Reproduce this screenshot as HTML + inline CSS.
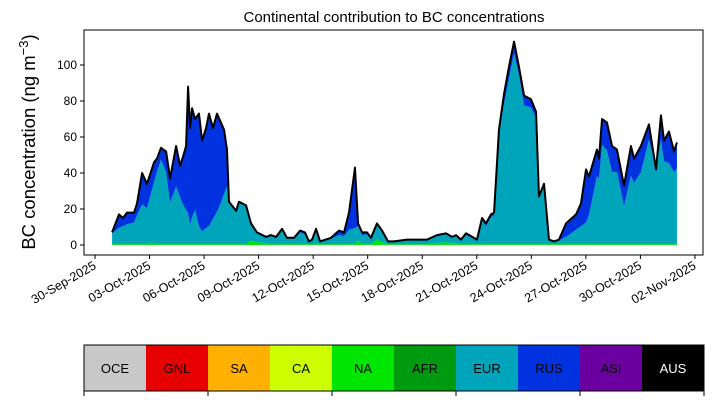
<!DOCTYPE html>
<html><head><meta charset="utf-8"><style>
body{margin:0;background:#fff}
svg{display:block;font-family:"Liberation Sans","DejaVu Sans",sans-serif}
</style></head><body>
<svg id="chart" width="714" height="402" viewBox="0 0 714 402" xmlns="http://www.w3.org/2000/svg">
<text x="394" y="22" font-size="15" text-anchor="middle">Continental contribution to BC concentrations</text>
<text transform="translate(35,142) rotate(-90)" font-size="18.5" text-anchor="middle">BC concentration (ng m<tspan dy="-7" font-size="13">−3</tspan><tspan dy="7">)</tspan></text>
<g id="plot"></g>
<g id="legend"></g>
</svg>
<script>
const days=[0.94,1.32,1.54,1.76,2.15,2.31,2.59,2.86,3.25,3.41,3.63,3.91,4.13,4.46,4.68,4.84,5.01,5.12,5.23,5.34,5.50,5.72,5.89,6.11,6.27,6.49,6.71,6.93,7.10,7.26,7.37,7.76,7.92,8.31,8.58,8.91,9.41,9.68,9.96,10.29,10.56,10.95,11.28,11.55,11.77,11.94,12.16,12.38,12.98,13.42,13.70,13.97,14.30,14.47,14.69,14.96,15.18,15.51,15.79,16.12,16.45,17.16,18.26,18.81,19.31,19.64,19.86,20.13,20.41,21.01,21.29,21.51,21.78,21.95,22.22,22.50,22.77,23.05,23.32,23.60,23.98,24.26,24.42,24.70,24.97,25.25,25.52,25.91,26.46,26.73,27.01,27.17,27.61,27.72,27.89,28.16,28.44,28.71,29.10,29.48,29.65,30.03,30.47,30.86,31.13,31.30,31.57,31.85,32.01];
const total=[7,17,15,18,18,23,40,34,46,48,54,52,37,55,44,49,55,88,65,76,70,73,58,65,73,65,73,68,64,53,24,19,24,22,12,7,4.5,5.5,4.5,9,4,4,8,7,2,3,9,2,4,8,7,18,43,12,7,7,4,12,8,2,2,3,3,5.5,6.5,4.5,5.5,3,6.5,3,15,12,17,18,64,84,99,113,99,83,81,74,27,34,3,2,3,12,17,23,42,38,53,48,70,68,55,53,33,55,48,55,67,42,72,58,63,52,57];
const eur=[6,9,10,11,12,16,22,20,34,40,47,40,23,32,26,22,19,17,11,15,19,10,7,9,10,14,18,23,28,32,23,18,23,21,11,6,4,4.5,4,8,3.5,3.5,6.5,5.5,1.5,2.5,7,1.5,3,5,4.5,8,9,8,5,5.5,3,9,6,1.5,1.5,2,2,4,5,3.5,4.5,2.5,5,2.5,13,10,15,16,60,78,92,106,94,77,76,70,26,32,2.5,1.5,2,4,8,10,12,16,38,36,55,52,40,40,21,38,34,40,58,42,58,46,45,40,42];
const na=[0.5,0.5,0.5,0.5,0.5,0.5,0.5,0.5,1,0.5,0.5,0.5,0.5,0.5,0.5,0.5,0.5,0.5,0.5,0.5,0.5,0.5,0.5,0.5,0.5,0.5,0.5,0.5,0.5,0.5,0.5,0.5,0.5,0.5,2.5,1.5,1,0.5,0.5,0.5,0.5,0.5,0.5,0.5,0.5,0.5,0.5,0.5,0.5,0.5,0.5,0.5,0.5,2.5,0.5,0.5,0.5,3,1.5,0.5,0.5,0.5,0.5,1,1.5,1,1,0.5,0.5,0.5,0.5,0.5,0.5,0.5,0.5,0.5,0.5,0.5,0.5,0.5,0.5,0.5,0.5,0.5,0.5,0.5,0.5,0.5,0.5,0.5,0.5,0.5,0.5,0.5,0.5,0.5,0.5,0.5,0.5,0.5,0.5,0.5,0.5,0.5,0.5,0.5,0.5,0.5,0.5];
const tickDays=[0,3,6,9,12,15,18,21,24,27,30,33];
const tickLabels=["30-Sep-2025","03-Oct-2025","06-Oct-2025","09-Oct-2025","12-Oct-2025","15-Oct-2025","18-Oct-2025","21-Oct-2025","24-Oct-2025","27-Oct-2025","30-Oct-2025","02-Nov-2025"];
const yTicks=[0,20,40,60,80,100];
const legendNames=["OCE","GNL","SA","CA","NA","AFR","EUR","RUS","ASI","AUS"];
const legendColors=["#c8c8c8","#e60000","#ffb000","#ccff00","#00e600","#009a10","#00a5bb","#0032e0","#6a009f","#000000"];

const NS="http://www.w3.org/2000/svg";
const X0=84,X1=703,Y0=30,Y1=255;
const xs=d=>95+d*18.18;
const ys=v=>245-v*1.8;
const plot=document.getElementById('plot');
function mk(tag,attrs,parent){const e=document.createElementNS(NS,tag);for(const k in attrs)e.setAttribute(k,attrs[k]);(parent||plot).appendChild(e);return e;}

function area(lower,upper,color,name){
  let d="M"+days.map((t,i)=>xs(t)+","+ys(upper[i])).join("L");
  for(let i=days.length-1;i>=0;i--)d+="L"+xs(days[i])+","+ys(lower[i]);
  const p=mk('path',{d:d+"Z",fill:color});
  
  
}
const zero=days.map(()=>0);
const naTop=na.slice();
const eurTop=days.map((_,i)=>na[i]+eur[i]);
const totTop=days.map((_,i)=>Math.max(total[i],eurTop[i]));
area(zero,naTop,"#00e600","area-na");
area(naTop,eurTop,"#00a5bb","area-eur");
area(eurTop,totTop,"#0032e0","area-rus");
const line=mk('path',{d:"M"+days.map((t,i)=>xs(t)+","+ys(total[i])).join("L"),fill:"none",stroke:"#000","stroke-width":2,"stroke-linejoin":"round"});



const frame=mk('rect',{x:X0,y:Y0,width:X1-X0,height:Y1-Y0,fill:"none",stroke:"#000","stroke-width":1});



yTicks.forEach(v=>{
  mk('line',{x1:X0-4,x2:X0,y1:ys(v),y2:ys(v),stroke:"#000"});
  const t=mk('text',{x:X0-7,y:ys(v)+4,"font-size":12,"text-anchor":"end"});
  t.textContent=v;
  
  
});
tickDays.forEach((d,i)=>{
  const x=xs(d);
  mk('line',{x1:x,x2:x,y1:Y1,y2:Y1+4,stroke:"#000"});
  const t=mk('text',{transform:`translate(${x+2},${Y1+13}) rotate(-30)`,"font-size":12.5,"text-anchor":"end"});
  t.textContent=tickLabels[i];
  
  
});

const lg=document.getElementById('legend');
const LX=84,LW=62,LY=345,LH=46;
legendNames.forEach((n,i)=>{
  const r=mk('rect',{x:LX+i*LW,y:LY,width:LW,height:LH,fill:legendColors[i]},lg);
  
  
  const t=mk('text',{x:LX+i*LW+LW/2,y:LY+LH/2+5,"font-size":13,"text-anchor":"middle",fill:n==="AUS"?"#fff":"#000"},lg);
  t.textContent=n;
  
  
});
mk('rect',{x:LX,y:LY,width:LW*10,height:LH,fill:"none",stroke:"#000"},lg);
for(let k=0;k<=5;k++)mk('line',{x1:LX+k*124,x2:LX+k*124,y1:LY+LH,y2:LY+LH+5,stroke:"#000"},lg);
</script>
</body></html>
